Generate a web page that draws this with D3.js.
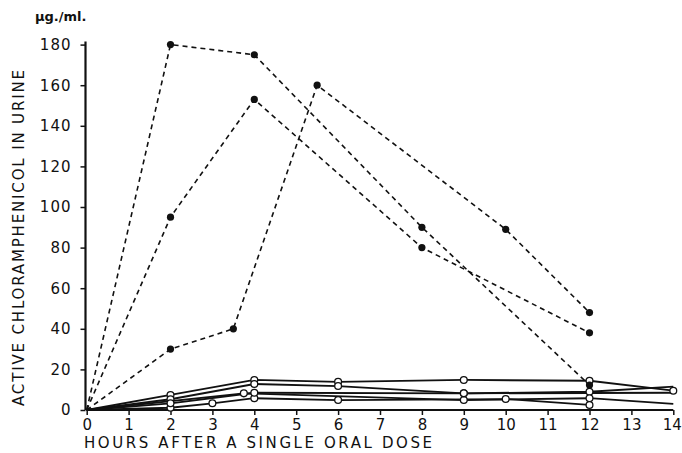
<!DOCTYPE html>
<html>
<head>
<meta charset="utf-8">
<script src="https://cdn.jsdelivr.net/npm/d3@7"></script>
<style>
  html, body { margin: 0; padding: 0; background: #fff; }
  svg { display: block; }
  text { font-family: "DejaVu Sans", sans-serif; fill: #111; }
</style>
</head>
<body>
<svg id="chart" width="682" height="453"></svg>
<script>
// ---- data ----
const xTicks = [0,1,2,3,4,5,6,7,8,9,10,11,12,13,14];
const yTicks = [0,20,40,60,80,100,120,140,160,180];
const yUnit = "µg./ml.";
const xTitle = "HOURS AFTER A SINGLE ORAL DOSE";
const yTitle = "ACTIVE CHLORAMPHENICOL IN URINE";

// dashed series, filled dots
const dashedA = [[0,0],[2,180],[4,175],[8,90],[12,12.3]];
const dashedB = [[0,0],[2,95],[4,153],[8,80],[12,38]];
const dashedC = [[0,0],[2,30],[3.5,40],[5.5,160],[10,89],[12,48]];
const dashedSeries = [dashedA, dashedB, dashedC];

// solid series, open circles
const solid1 = [[0,0],[2,7.4],[4,14.8],[6,13.9],[9,14.8],[12,14.4],[14,9.5]];
const solid2 = [[0,0],[2,5.3],[4,12.8],[6,11.8],[9,8.2],[12,9.0],[14,11.5]];
const solid3 = [[0,0],[3.75,8.2],[9,4.9],[12,5.8],[14,3]];
const solid4 = [[0,0],[2,1.1],[3,3.3],[4,5.8],[6,4.9],[10,5.4],[12,2.5]];
const solid5 = [[0,0],[2,3.3],[4,8.5],[9,8.2],[14,8.5]];
const solidSeries = [solid1, solid2, solid3, solid4, solid5];
// whether the final point of each solid series carries a circle
const solidEndMarked = [true, false, false, true, false];

// ---- drawing ----
const svg = d3.select("#chart");
const x = d3.scaleLinear().domain([0,14]).range([86.7, 673.3]);
const y = d3.scaleLinear().domain([0,180]).range([410, 44.6]);

// axes
const xAxis = d3.axisBottom(x).tickValues(xTicks).tickSize(5).tickPadding(4)
  .tickFormat(d => d);
const yAxis = d3.axisLeft(y).tickValues(yTicks).tickSize(5).tickPadding(9)
  .tickFormat(d => d);

const gx = svg.append("g").attr("transform", "translate(0,410)").call(xAxis);
const gy = svg.append("g").attr("transform", "translate(85.5,0)").call(yAxis);
[gx, gy].forEach(g => {
  g.select(".domain").attr("stroke", "#111").attr("stroke-width", 2.2);
  g.selectAll(".tick line").attr("stroke", "#111").attr("stroke-width", 1.5);
  g.selectAll(".tick text").attr("font-size", 15).attr("fill", "#111")
    .attr("font-family", "DejaVu Sans, sans-serif");
});
gy.selectAll(".tick text").attr("letter-spacing", 1);
gx.selectAll(".tick text").filter(d => d === 14)
  .attr("text-anchor", "end").attr("x", 8);
gx.select(".domain").attr("d", `M${x(0)},0H${x(14)}`);
gy.select(".domain").attr("d", `M0,${y(0)}V${y(180)-3}`);

// titles
svg.append("text").attr("x", 35).attr("y", 21).attr("font-size", 13)
  .attr("font-weight", "bold").text(yUnit);
svg.append("text").attr("x", 84).attr("y", 448).attr("font-size", 15)
  .attr("textLength", 348).attr("lengthAdjust", "spacing").text(xTitle);
svg.append("text")
  .attr("transform", "translate(24,238) rotate(-90)")
  .attr("text-anchor", "middle").attr("font-size", 15)
  .attr("textLength", 336).attr("lengthAdjust", "spacing").text(yTitle);

const line = d3.line().x(d => x(d[0])).y(d => y(d[1]));

// solid lines
solidSeries.forEach(s => {
  svg.append("path").datum(s).attr("d", line).attr("fill", "none")
    .attr("stroke", "#111").attr("stroke-width", 1.8);
});
// dashed lines
dashedSeries.forEach(s => {
  svg.append("path").datum(s).attr("d", line).attr("fill", "none")
    .attr("stroke", "#111").attr("stroke-width", 1.6)
    .attr("stroke-dasharray", "5,4");
});

// open circles
solidSeries.forEach((s, i) => {
  const pts = s.filter((d, j) => j > 0 && (j < s.length - 1 || solidEndMarked[i]));
  svg.append("g").selectAll("circle").data(pts).join("circle")
    .attr("cx", d => x(d[0])).attr("cy", d => y(d[1])).attr("r", 3.4)
    .attr("fill", "#fff").attr("stroke", "#111").attr("stroke-width", 1.3);
});
// filled dots
dashedSeries.forEach(s => {
  svg.append("g").selectAll("circle").data(s.slice(1)).join("circle")
    .attr("cx", d => x(d[0])).attr("cy", d => y(d[1])).attr("r", 3.6)
    .attr("fill", "#111");
});
</script>
</body>
</html>
